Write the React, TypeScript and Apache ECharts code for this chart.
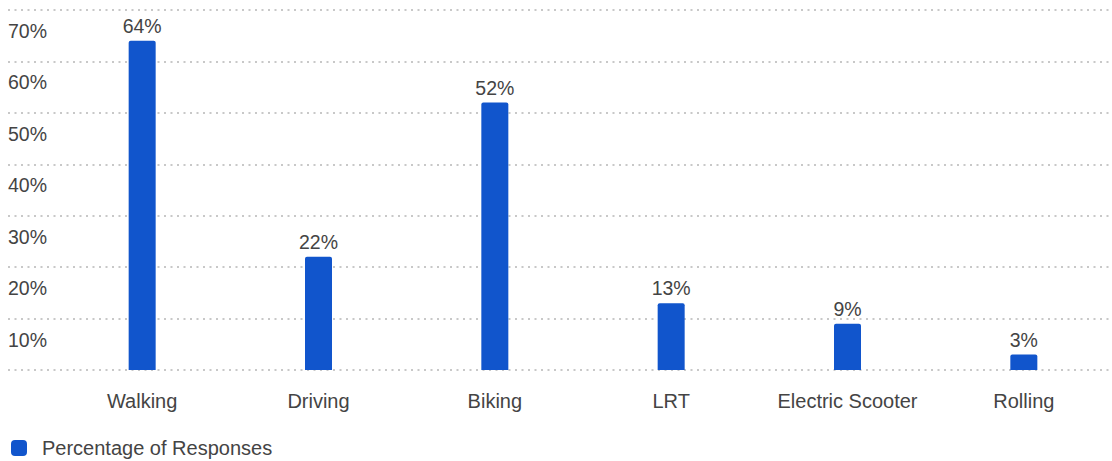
import React, { useEffect, useRef } from "react";
import * as echarts from "echarts";

const categories = ["Walking", "Driving", "Biking", "LRT", "Electric Scooter", "Rolling"];
const values = [64, 22, 52, 13, 9, 3];
const seriesName = "Percentage of Responses";
const yMin = 0;
const yMax = 70;
const yInterval = 10;

const FONT = "'Liberation Sans', Arial, Helvetica, sans-serif";
const TEXT = "#444444";
const BLUE = "#1155cc";

export default function App() {
  const ref = useRef<HTMLDivElement>(null);
  useEffect(() => {
    if (!ref.current) return;
    const chart = echarts.init(ref.current, undefined, { renderer: "svg" });
    chart.setOption({
      animation: false,
      backgroundColor: "#ffffff",
      textStyle: { fontFamily: FONT },
      grid: [
        { left: 8, width: 1104, top: 10, height: 360 },
        { left: 54, width: 1064, top: 10, height: 360 },
      ],
      legend: {
        show: true,
        left: 11,
        top: 438,
        padding: 0,
        icon: "roundRect",
        itemWidth: 16,
        itemHeight: 16,
        textStyle: { fontSize: 20, color: TEXT, fontFamily: FONT, padding: [0, 0, 0, 10] },
        data: [seriesName],
      },
      xAxis: [
        { type: "value", gridIndex: 0, show: false, min: 0, max: 1 },
        {
          type: "category",
          gridIndex: 1,
          data: categories,
          axisLine: { show: false },
          axisTick: { show: false },
          axisLabel: { margin: 21, fontSize: 20, color: TEXT, fontFamily: FONT, interval: 0 },
        },
      ],
      yAxis: [
        {
          type: "value",
          gridIndex: 0,
          min: yMin,
          max: yMax,
          interval: yInterval,
          axisLine: { show: false },
          axisTick: { show: false },
          splitLine: {
            show: true,
            lineStyle: { color: "#c8c8c8", width: 2, type: [2, 4.5] },
          },
          axisLabel: {
            inside: true,
            margin: 0,
            showMinLabel: false,
            verticalAlign: "top",
            padding: [11, 0, 0, 0],
            fontSize: 19.5,
            color: TEXT,
            fontFamily: FONT,
            formatter: (v: number) => `${v}%`,
          },
        },
        { type: "value", gridIndex: 1, min: yMin, max: yMax, interval: yInterval, show: false, splitLine: { show: false } },
      ],
      series: [
        {
          name: seriesName,
          type: "bar",
          xAxisIndex: 1,
          yAxisIndex: 1,
          data: values,
          barWidth: 27,
          itemStyle: { color: BLUE, borderRadius: [2, 2, 0, 0] },
          label: {
            show: true,
            position: "top",
            distance: 5,
            fontSize: 19.5,
            color: TEXT,
            fontFamily: FONT,
            formatter: (p: any) => `${p.value}%`,
          },
        },
      ],
    });
    return () => chart.dispose();
  }, []);
  return (
    <div
      ref={ref}
      style={{ position: "fixed", left: 0, top: 0, width: 1112, height: 461, background: "#fff" }}
    />
  );
}
